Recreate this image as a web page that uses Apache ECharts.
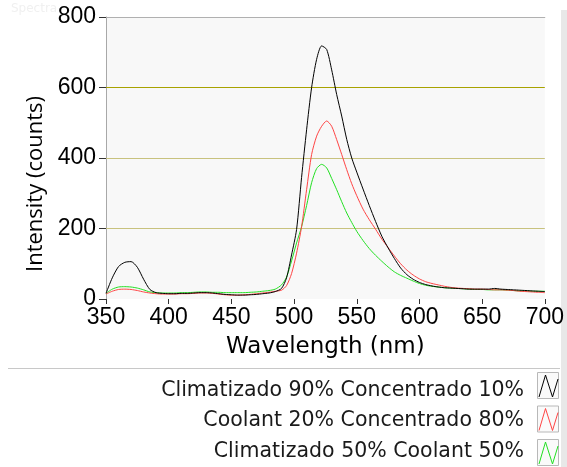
<!DOCTYPE html>
<html>
<head>
<meta charset="utf-8">
<script src="https://cdn.jsdelivr.net/npm/echarts@6/dist/echarts.min.js"></script>
<style>
html,body{margin:0;padding:0;background:#fff;}
#chart{width:567px;height:467px;}
</style>
</head>
<body>
<div id="chart"></div>
<script>
var wavelengths = [350,355,360,365,370,375,380,385,390,395,400,405,410,415,420,425,430,435,440,445,450,455,460,465,470,475,480,485,490,494,498,502,506,510,514,518,522,526,530,534,538,542,546,550,555,560,565,570,575,580,585,590,595,600,605,610,615,620,625,630,635,640,645,650,655,660,665,670,675,680,685,690,695,700];
var seriesNames = ['Climatizado 90% Concentrado 10%','Coolant 20% Concentrado 80%','Climatizado 50% Coolant 50%'];
var climatizado90 = [16,60,92,104,106,90,56,27,18,16,15,15,16,16,17,18,18,17,15,13,12,11,11,12,13,15,17,21,30,60,125,197,345,480,600,680,718,708,650,580,519,453,400,360,312,265,220,178,145,115,88,69,56,47,41,37,34,32,31,30,29,28,28,28,28,30,28,27,26,25,24,23,22,21];
var coolant20 = [14,22,27,28,27,24,20,17,15,14,14,14,15,15,16,17,17,16,14,12,11,11,12,13,15,17,19,22,25,38,72,130,205,310,410,462,490,505,490,452,410,367,327,293,255,225,198,170,146,122,100,82,68,57,49,44,40,36,33,31,30,29,28,28,27,26,26,25,24,22,21,20,19,18];
var climatizado50 = [16,28,34,35,34,31,26,20,18,17,17,17,18,18,19,20,20,19,19,18,18,18,18,19,20,22,24,28,40,62,108,159,205,265,330,370,382,372,342,310,276,244,217,192,166,143,124,107,91,77,67,59,51,44,39,36,34,32,31,30,29,28,27,27,26,26,26,25,24,23,23,22,22,22];
var xTicks = [350,400,450,500,550,600,650,700];
var yTicks = [0,200,400,600,800];
var seriesColors = ['#000000','#ff4444','#22e022'];

function pairs(vals){ return wavelengths.map(function(w,i){ return [w, vals[i]]; }); }
var allVals = [climatizado90, coolant20, climatizado50];

var chart = echarts.init(document.getElementById('chart'), null, {renderer:'canvas'});

var iconGraphics = [];
var boxTops = [372, 405.5, 439];
for (var k=0;k<3;k++){
  var t = boxTops[k];
  iconGraphics.push({type:'rect', shape:{x:537.5,y:t+0.5,width:21,height:26}, style:{fill:'#fafafa',stroke:'#b8b8b8',lineWidth:1}, silent:true});
  iconGraphics.push({type:'polyline', shape:{points:[[539,t+25],[545.5,t+3],[552.5,t+25],[558,t+7]]}, style:{fill:null,stroke:seriesColors[k],lineWidth:1}, silent:true});
}

var gridLineColors = {200:'#c8c27e', 400:'#c8c27e', 600:'#a8a200'};
var gridMarks = yTicks.filter(function(v){return v>0 && v<800;}).map(function(v){
  return {yAxis:v, lineStyle:{color:gridLineColors[v], type:'solid', width:1}};
});

var option = {
  animation:false,
  backgroundColor:'#ffffff',
  title:{text:'Spectra', left:6, top:-2, textStyle:{color:'#f0f0f0', fontSize:12, fontFamily:'DejaVu Sans', fontWeight:'normal'}},
  grid:{left:106, top:17, width:439, height:282, show:true, backgroundColor:'#f8f8f8', borderWidth:0, containLabel:false},
  xAxis:[{
    type:'value', min:350, max:700, interval:50,
    name:'Wavelength (nm)', nameLocation:'middle', nameGap:37,
    nameTextStyle:{fontFamily:'DejaVu Sans', fontSize:23, color:'#000'},
    axisLine:{show:false},
    axisTick:{show:true, length:5, lineStyle:{color:'#333'}},
    axisLabel:{margin:7, fontFamily:'Liberation Sans', fontSize:23, color:'#000'},
    splitLine:{show:false}
  },{
    type:'value', position:'top', min:350, max:700, interval:50,
    axisLine:{show:true, lineStyle:{color:'#b0b0b0', width:1}},
    axisTick:{show:false}, axisLabel:{show:false}, splitLine:{show:false}
  }],
  yAxis:{
    type:'value', min:0, max:800, interval:200,
    name:'Intensity (counts)', nameLocation:'middle', nameGap:36,
    nameTextStyle:{fontFamily:'Open Sans', fontSize:22, color:'#000', padding:[0,52,0,0]},
    axisLine:{show:true, lineStyle:{color:'#a8a8a8', width:1}},
    axisTick:{show:true, length:7, lineStyle:{color:'#333'}},
    axisLabel:{margin:10, fontFamily:'Liberation Sans', fontSize:23, color:'#000'},
    splitLine:{show:false}
  },
  legend:{
    orient:'vertical', right:33, top:372, align:'right',
    itemWidth:30, itemHeight:27, itemGap:6.5, icon:'none',
    data:seriesNames,
    textStyle:{fontFamily:'DejaVu Sans', fontSize:20.5, color:'#1a1a1a'},
    selectedMode:false
  },
  graphic:[
    {type:'line', shape:{x1:8,y1:368.5,x2:560,y2:368.5}, style:{stroke:'#c8c8c8',lineWidth:1}, silent:true},
    {type:'rect', shape:{x:561,y:10,width:6,height:457}, style:{fill:'#e8e8e8'}, silent:true}
  ].concat(iconGraphics),
  series:[2,1,0].map(function(i, n){
    var s = {
      name:seriesNames[i], type:'line', data:pairs(allVals[i]), xAxisIndex:0,
      showSymbol:false, symbol:'none', smooth:0.25,
      lineStyle:{color:seriesColors[i], width:1},
      itemStyle:{color:seriesColors[i]},
      z: 3 - i
    };
    if (n === 0) {
      s.markLine = {silent:true, symbol:'none', label:{show:false}, animation:false, z:1, data:gridMarks};
    }
    return s;
  })
};
chart.setOption(option);
</script>
</body>
</html>
